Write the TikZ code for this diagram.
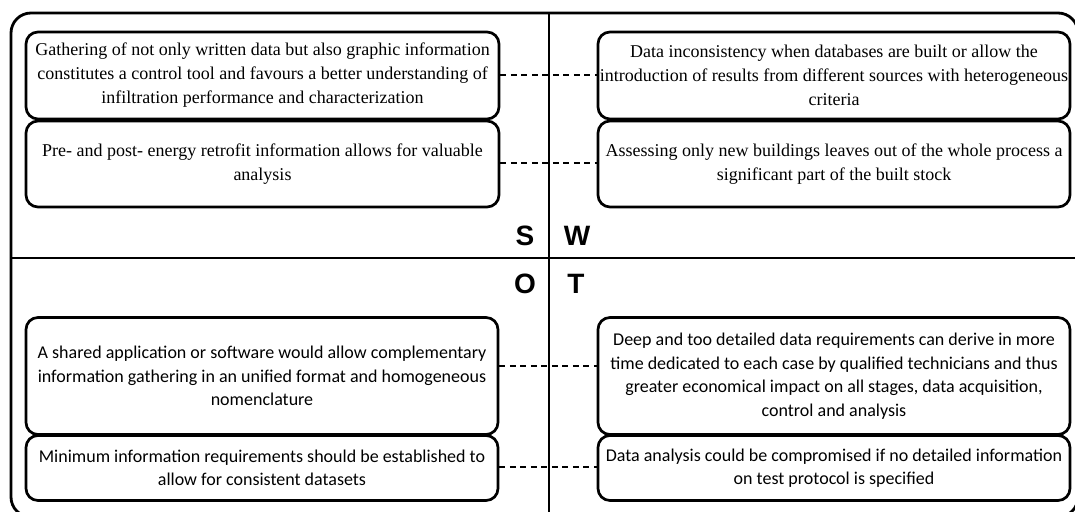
\documentclass[tikz,border=0pt]{standalone}
\usepackage{fontspec}
\newfontfamily\serifbox{Liberation Serif}
\newfontfamily\calbox{Carlito}
\newfontfamily\letterfont{Liberation Sans}
\begin{document}
\begin{tikzpicture}[x=1pt,y=-1pt,
  frame/.style={line width=2.8pt},
  box/.style={draw, line width=2.7pt, rounded corners=12pt, inner sep=0pt, align=center,
    minimum width=473pt},
  sbox/.style={box, font=\serifbox\fontsize{18}{24}\selectfont},
  cbox/.style={box, font=\calbox\fontsize{18}{23.5}\selectfont},
  link/.style={line width=1.6pt, dash pattern=on 6pt off 4.5pt},
  letter/.style={font=\letterfont\bfseries\fontsize{28}{30}\selectfont, inner sep=0pt, anchor=base}]
\useasboundingbox (0,0) rectangle (1075,511);
\clip (0,0) rectangle (1075,511);
\fill[white] (0,0) rectangle (1075,511);
% frame
\draw[frame, rounded corners=20pt] (11,13) rectangle (1078,517);
\coordinate (vtop) at (549,13);
\coordinate (vbot) at (549,517);
\coordinate (hl) at (11,258);
\coordinate (hr) at (1078,258);
\draw[frame] (vtop) -- (vbot);
\draw[frame] (hl) -- (hr);
% letters
\node[letter] (S) at (525,245) {S};
\node[letter] (W) at (577,245) {W};
\node[letter] (O) at (525,293) {O};
\node[letter] (T) at (576,293) {T};
% S boxes
\node[sbox, minimum height=87pt] (S1) at (262.5,75.5) {Gathering of not only written data but also graphic information\\constitutes a control tool and favours a better understanding of\\infiltration performance and characterization};
\node[sbox, minimum height=86pt] (S2) at (262.5,164) {Pre- and post- energy retrofit information allows for valuable\\analysis};
% W boxes
\node[sbox, minimum width=472pt, minimum height=87pt] (W1) at (834,75.5) {Data inconsistency when databases are built or allow the\\introduction of results from different sources with heterogeneous\\criteria};
\node[sbox, minimum width=472pt, minimum height=86pt] (W2) at (834,164) {Assessing only new buildings leaves out of the whole process a\\significant part of the built stock};
% O boxes
\node[cbox, minimum width=472pt, minimum height=117pt] (O1) at (262,376) {A shared application or software would allow complementary\\information gathering in an unified format and homogeneous\\nomenclature};
\node[cbox, minimum width=472pt, minimum height=65pt] (O2) at (262,468) {Minimum information requirements should be established to\\allow for consistent datasets};
% T boxes
\node[cbox, minimum width=472pt, minimum height=117pt] (T1) at (834,376) {Deep and too detailed data requirements can derive in more\\time dedicated to each case by qualified technicians and thus\\greater economical impact on all stages, data acquisition,\\control and analysis};
\node[cbox, minimum width=472pt, minimum height=65pt] (T2) at (834,468) {Data analysis could be compromised if no detailed information\\on test protocol is specified};
% dashed links
\draw[link] (S1.east |- 0,75) -- (W1.west |- 0,75);
\draw[link] (S2.east |- 0,163) -- (W2.west |- 0,163);
\draw[link] (O1.east |- 0,366) -- (T1.west |- 0,366);
\draw[link] (O2.east |- 0,467) -- (T2.west |- 0,467);
\end{tikzpicture}
\end{document}
